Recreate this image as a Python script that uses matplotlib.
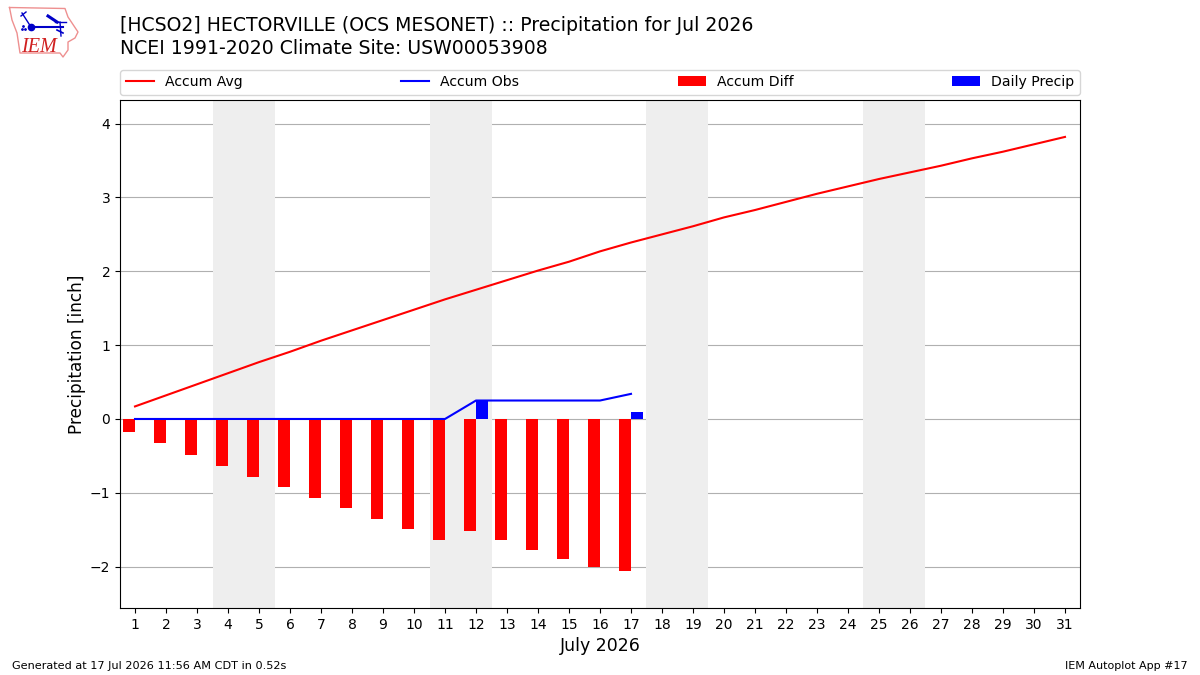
import matplotlib
matplotlib.use("Agg")
import matplotlib.pyplot as plt
import numpy as np

# Monthly precipitation data (inches)
days = list(range(1, 32))
accum_avg = [0.17, 0.32, 0.47, 0.62, 0.77, 0.91, 1.06, 1.20, 1.34, 1.48, 1.62,
             1.75, 1.88, 2.01, 2.13, 2.27, 2.39, 2.50, 2.61, 2.73, 2.83, 2.94,
             3.05, 3.15, 3.25, 3.34, 3.43, 3.53, 3.62, 3.72, 3.82]
obs_days = list(range(1, 18))
accum_obs = [0, 0, 0, 0, 0, 0, 0, 0, 0, 0, 0, 0.25, 0.25, 0.25, 0.25, 0.25, 0.34]
accum_diff = [-0.17, -0.32, -0.49, -0.64, -0.78, -0.92, -1.07, -1.20, -1.35,
              -1.49, -1.64, -1.52, -1.64, -1.77, -1.89, -2.00, -2.06]
daily_precip = [0, 0, 0, 0, 0, 0, 0, 0, 0, 0, 0, 0.25, 0, 0, 0, 0, 0.09]
weekends = [(3.5, 5.5), (10.5, 12.5), (17.5, 19.5), (24.5, 26.5)]

# state outline for the logo, in logo axes pixels
outline_x = [9.5, 65, 68, 78, 75, 68, 68, 63, 60, 20, 17, 12, 9.5]
outline_y = [7.5, 8.5, 17, 32, 38, 42, 50, 57, 53, 53, 33, 20, 7.5]

W, H = 1200, 675
fig = plt.figure(figsize=(W / 100, H / 100), dpi=100)
ax = fig.add_axes([120 / W, 1 - 608 / H, (1080 - 120) / W, (608 - 100) / H])

for start, end in weekends:
    ax.axvspan(start, end, color="#EEEEEE", lw=0, zorder=1)

ax.grid(axis="y", color="#b0b0b0", lw=0.8, zorder=2)
ax.set_axisbelow(True)

ax.plot(days, accum_avg, color="r", lw=1.5, label="Accum Avg", zorder=4)
ax.plot(obs_days, accum_obs, color="b", lw=1.5, label="Accum Obs", zorder=4)
ax.bar(obs_days, accum_diff, width=-0.4, align="edge", color="r",
       label="Accum Diff", zorder=3)
ax.bar(obs_days, daily_precip, width=0.4, align="edge", color="b",
       label="Daily Precip", zorder=3)

ax.set_xticks(days)
ax.set_xlim(0.516, 31.484)
ax.set_ylim(-2.56, 4.32)
ax.set_yticks([-2, -1, 0, 1, 2, 3, 4])
ax.set_xlabel("July 2026", fontsize=12.5)
ax.set_ylabel("Precipitation [inch]", fontsize=12.2, labelpad=3)
ax.legend(loc="lower left", bbox_to_anchor=(0, 1.01, 1, 0.05), ncol=4,
          mode="expand", borderaxespad=0, fontsize=10.1)

fig.text(120 / W, 1 - 31 / H, "[HCSO2] HECTORVILLE (OCS MESONET) :: Precipitation for Jul 2026",
         fontsize=13.6, va="baseline")
fig.text(120 / W, 1 - 54 / H, "NCEI 1991-2020 Climate Site: USW00053908",
         fontsize=13.6, va="baseline")
fig.text(12 / W, 1 - 669 / H, "Generated at 17 Jul 2026 11:56 AM CDT in 0.52s",
         fontsize=8.1, va="baseline")
fig.text(1188 / W, 1 - 669 / H, "IEM Autoplot App #17", fontsize=8,
         ha="right", va="baseline")

# small logo in the top left corner
logo = fig.add_axes([0, 1 - 60 / H, 85 / W, 60 / H])
logo.set_xlim(0, 85)
logo.set_ylim(60, 0)
logo.axis("off")
logo.plot(outline_x, outline_y, color="#ee9090", lw=1)
logo.plot([31, 63], [27, 27], color="#0000c8", lw=1.5)
logo.plot([31], [27], "o", color="#0000c8", ms=4.5)
logo.plot([22, 31], [13, 27], color="#0000c8", lw=1)
logo.plot([21, 26], [16, 12], color="#0000c8", lw=1)
logo.plot([23, 22, 25], [26, 29, 29], ".", color="#0000c8", ms=2)
logo.plot([48, 57], [16, 22], color="#0000c8", lw=2.2)
logo.plot([55, 66], [21.5, 21.5], color="#0000c8", lw=1)
logo.plot([60, 61], [22, 36], color="#0000c8", lw=1)
logo.plot([57, 63], [30, 33], color="#0000c8", lw=1.2)
logo.text(21.5, 52, "IEM", color="#d02020", fontsize=14.5, family="Liberation Serif",
          style="italic", va="baseline")

fig.savefig("out.png", dpi=100)
